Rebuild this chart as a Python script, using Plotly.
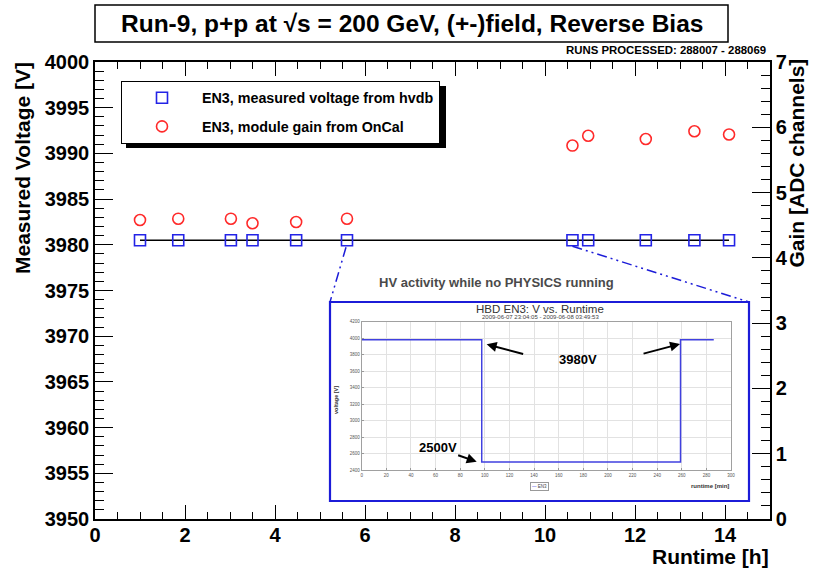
import plotly.graph_objects as go

# ---------------- data ----------------
runtime_h = [1.0, 1.85, 3.02, 3.5, 4.47, 5.6, 10.61, 10.96, 12.24, 13.32, 14.09]
voltage_v = [3980.5, 3980.5, 3980.5, 3980.5, 3980.5, 3980.5, 3980.5, 3980.5, 3980.5, 3980.5, 3980.5]
gain_adc = [4.58, 4.6, 4.6, 4.53, 4.55, 4.6, 5.72, 5.87, 5.82, 5.94, 5.89]

inset_minutes = [0, 97.5, 97.5, 259, 259, 286]
inset_voltage = [3980, 3980, 2500, 2500, 3980, 3980]

x_ticks = [0, 2, 4, 6, 8, 10, 12, 14]
inset_x_ticks = list(range(0, 301, 20))
inset_y_ticks = list(range(2400, 4201, 200))

FONT = "Liberation Sans"
W, H = 819, 568
L, R, T, B = 95, 49, 62, 49
PW, PH = W - L - R, H - T - B


def px_x(px):
    return (px - L) / PW


def px_y(py):
    return (H - B - py) / PH


BLUE = "#2323e6"
RED = "#ff2a2a"
IBLUE = "#1c1cd8"
DASH = "10px,4px,2px,4px,2px,4px"

fig = go.Figure()

# voltage connecting line
fig.add_trace(go.Scatter(x=runtime_h, y=voltage_v, mode="lines",
                         line=dict(color="black", width=1.3),
                         showlegend=False, hoverinfo="skip"))
fig.add_trace(go.Scatter(x=runtime_h, y=voltage_v, mode="markers",
                         name="EN3, measured voltage from hvdb", legendgroup="a",
                         marker=dict(symbol="square-open", size=11, color=BLUE,
                                     line=dict(width=1.6, color=BLUE))))
fig.add_trace(go.Scatter(x=runtime_h, y=gain_adc, mode="markers", yaxis="y2",
                         name="EN3, module gain from OnCal", legendgroup="b",
                         marker=dict(symbol="circle-open", size=11, color=RED,
                                     line=dict(width=1.6, color=RED))))

# inset
fig.add_trace(go.Scatter(x=inset_minutes, y=inset_voltage, mode="lines",
                         xaxis="x3", yaxis="y3", showlegend=False,
                         line=dict(color="#4040e0", width=1.5)))

bold = dict(family=FONT, size=20, color="black", weight="bold")
title_font = dict(family=FONT, size=21, color="black", weight="bold")

fig.update_layout(
    width=W, height=H,
    margin=dict(l=L, r=R, t=T, b=B, pad=0),
    paper_bgcolor="white", plot_bgcolor="white",
    font=dict(family=FONT, color="black"),
    xaxis=dict(range=[0, 15], domain=[0, 1], tickvals=x_ticks,
               ticks="inside", ticklen=14, tickwidth=1.3, tickcolor="black",
               minor=dict(dtick=0.5, ticklen=7, tickwidth=1.3, tickcolor="black", ticks="inside"),
               showline=True, linecolor="black", linewidth=1.5, mirror="ticks",
               showgrid=False, zeroline=False, tickfont=bold, anchor="y",
               ticklabelstandoff=-3),
    yaxis=dict(range=[3950, 4000], domain=[0, 1], dtick=5, tick0=3950,
               ticks="inside", ticklen=18, tickwidth=1.3, tickcolor="black",
               minor=dict(dtick=1, ticklen=9, tickwidth=1.3, tickcolor="black", ticks="inside"),
               showline=True, linecolor="black", linewidth=1.5,
               showgrid=False, zeroline=False, tickfont=bold, anchor="x"),
    yaxis2=dict(range=[0, 7], overlaying="y", side="right", dtick=1, tick0=0,
                ticks="inside", ticklen=18, tickwidth=1.3, tickcolor="black",
                minor=dict(dtick=0.2, ticklen=9, tickwidth=1.3, tickcolor="black", ticks="inside"),
                showline=True, linecolor="black", linewidth=1.5,
                showgrid=False, zeroline=False, tickfont=bold, anchor="x"),
    xaxis3=dict(domain=[px_x(361.7), px_x(731)], range=[0, 300], tickvals=inset_x_ticks,
                anchor="y3", showgrid=True, gridcolor="#e2e2e2", gridwidth=1,
                zeroline=False, showline=True, mirror=True, linecolor="#a0a0a0", linewidth=1,
                ticks="inside", ticklen=2, tickcolor="#999999",
                tickfont=dict(family=FONT, size=4.5, color="#555555")),
    yaxis3=dict(domain=[px_y(470.3), px_y(321.7)], range=[2400, 4200], tickvals=inset_y_ticks,
                anchor="x3", showgrid=True, gridcolor="#e2e2e2", gridwidth=1,
                zeroline=False, showline=True, mirror=True, linecolor="#a0a0a0", linewidth=1,
                ticks="inside", ticklen=2, tickcolor="#999999",
                tickfont=dict(family=FONT, size=4.5, color="#555555")),
    legend=dict(x=px_x(121), y=px_y(81), xanchor="left", yanchor="top",
                bgcolor="white", bordercolor="black", borderwidth=1,
                font=dict(family=FONT, size=14.3, color="black", weight="bold"),
                tracegroupgap=7, itemwidth=70),
    showlegend=True,
)

shapes = []
# title box
shapes.append(dict(type="rect", xref="paper", yref="paper",
                   x0=px_x(95), x1=px_x(728), y0=px_y(42), y1=px_y(5),
                   line=dict(color="black", width=1.5), fillcolor="white", layer="below"))
# legend shadow
shapes.append(dict(type="rect", xref="paper", yref="paper",
                   x0=px_x(126), x1=px_x(446), y0=px_y(148), y1=px_y(86),
                   line=dict(width=0), fillcolor="black", layer="above"))
# inset frame
shapes.append(dict(type="rect", xref="paper", yref="paper",
                   x0=px_x(330), x1=px_x(749), y0=px_y(501), y1=px_y(302),
                   line=dict(color=IBLUE, width=2.2), fillcolor="white", layer="below"))
# dash-dot connectors from the data points bordering the gap to the inset frame
x_a = L + runtime_h[5] / 15 * PW
x_b = L + runtime_h[6] / 15 * PW
y_v = H - B - (voltage_v[5] - 3950) / 50 * PH
shapes.append(dict(type="line", xref="paper", yref="paper",
                   x0=px_x(x_a - 1), y0=px_y(y_v + 7), x1=px_x(330), y1=px_y(302),
                   line=dict(color=IBLUE, width=1.5, dash=DASH)))
shapes.append(dict(type="line", xref="paper", yref="paper",
                   x0=px_x(x_b), y0=px_y(y_v + 6), x1=px_x(749), y1=px_y(302),
                   line=dict(color=IBLUE, width=1.5, dash=DASH)))
fig.update_layout(shapes=shapes)

ann = []
ann.append(dict(text="Run-9, p+p at √s = 200 GeV, (+-)field, Reverse Bias",
                xref="paper", yref="paper", x=px_x(411.5), y=px_y(24),
                xanchor="center", yanchor="middle", showarrow=False,
                font=dict(family=FONT, size=24.5, color="black", weight="bold")))
ann.append(dict(text="RUNS PROCESSED: 288007 - 288069",
                xref="paper", yref="paper", x=px_x(768), y=px_y(50),
                xanchor="right", yanchor="middle", showarrow=False,
                font=dict(family=FONT, size=11.4, color="black", weight="bold")))
ann.append(dict(text="Measured Voltage [V]", xref="paper", yref="paper",
                x=px_x(22), y=px_y(60), xanchor="center", yanchor="top",
                textangle=-90, showarrow=False, font=title_font))
ann.append(dict(text="Gain [ADC channels]", xref="paper", yref="paper",
                x=px_x(796), y=px_y(57), xanchor="center", yanchor="top",
                textangle=-90, showarrow=False, font=title_font))
ann.append(dict(text="Runtime [h]", xref="paper", yref="paper",
                x=px_x(771), y=px_y(556), xanchor="right", yanchor="middle",
                showarrow=False, font=title_font))
ann.append(dict(text="HV activity while no PHYSICS running", xref="paper", yref="paper",
                x=px_x(496), y=px_y(282), xanchor="center", yanchor="middle",
                showarrow=False, font=dict(family=FONT, size=13, color="#4a4a4a", weight="bold")))
# inset titles
ann.append(dict(text="HBD EN3: V vs. Runtime", xref="paper", yref="paper",
                x=px_x(540), y=px_y(309), xanchor="center", yanchor="middle",
                showarrow=False, font=dict(family=FONT, size=11.5, color="#333333")))
ann.append(dict(text="2009-06-07 23:04:05 - 2009-06-08 03:49:53", xref="paper", yref="paper",
                x=px_x(540), y=px_y(316.5), xanchor="center", yanchor="middle",
                showarrow=False, font=dict(family=FONT, size=6, color="#444444")))
ann.append(dict(text="runtime [min]", xref="paper", yref="paper",
                x=px_x(731), y=px_y(485.7), xanchor="right", yanchor="middle",
                showarrow=False, font=dict(family=FONT, size=6, color="#333333", weight="bold")))
ann.append(dict(text="voltage [V]", xref="paper", yref="paper",
                x=px_x(336), y=px_y(400), xanchor="center", yanchor="middle", textangle=-90,
                showarrow=False, font=dict(family=FONT, size=5.5, color="#333333", weight="bold")))
ann.append(dict(text="<span style='color:#4040e0'>—</span> EN3", xref="paper", yref="paper",
                x=px_x(539), y=px_y(486.5), xanchor="center", yanchor="middle",
                showarrow=False, bgcolor="white", bordercolor="#999999", borderwidth=1, borderpad=1,
                font=dict(family=FONT, size=4.5, color="#444444")))
# inset callouts
ann.append(dict(text="3980V", xref="x3", yref="y3", x=176, y=3745,
                xanchor="center", yanchor="middle", showarrow=False,
                font=dict(family=FONT, size=13, color="black", weight="bold")))
ann.append(dict(text="2500V", xref="x3", yref="y3", x=62, y=2674,
                xanchor="center", yanchor="middle", showarrow=False,
                font=dict(family=FONT, size=13, color="black", weight="bold")))
ann.append(dict(text="", xref="x3", yref="y3", x=101.5, y=3926, ax=38, ay=10,
                axref="pixel", ayref="pixel", showarrow=True, arrowhead=2,
                arrowsize=1, arrowwidth=2, arrowcolor="black"))
ann.append(dict(text="", xref="x3", yref="y3", x=258.6, y=3930, ax=-38, ay=10,
                axref="pixel", ayref="pixel", showarrow=True, arrowhead=2,
                arrowsize=1, arrowwidth=2, arrowcolor="black"))
ann.append(dict(text="", xref="x3", yref="y3", x=93.4, y=2504, ax=-20, ay=-7,
                axref="pixel", ayref="pixel", showarrow=True, arrowhead=2,
                arrowsize=1, arrowwidth=2, arrowcolor="black"))
fig.update_layout(annotations=ann)

fig.write_html("out.html", config={"displayModeBar": False},
               post_script="document.body.style.margin='0';")
